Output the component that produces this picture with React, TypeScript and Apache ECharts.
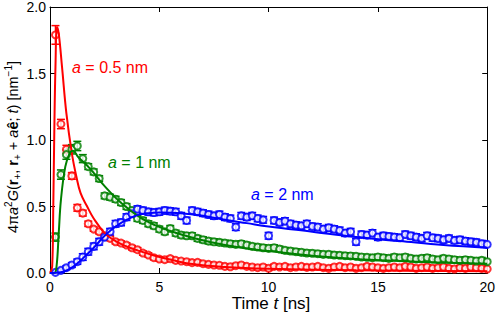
import React, { useEffect, useRef } from 'react';
import * as echarts from 'echarts';

// sampling times (ns)
const times = [0.25,0.5,0.75,1,1.25,1.5,1.75,2,2.25,2.5,2.75,3,3.25,3.5,3.75,4,4.25,4.5,4.75,5,
  5.25,5.5,5.75,6,6.25,6.5,6.75,7,7.25,7.5,7.75,8,8.25,8.5,8.75,9,9.25,9.5,9.75,10,
  10.25,10.5,10.75,11,11.25,11.5,11.75,12,12.25,12.5,12.75,13,13.25,13.5,13.75,14,14.25,14.5,14.75,15,
  15.25,15.5,15.75,16,16.25,16.5,16.75,17,17.25,17.5,17.75,18,18.25,18.5,18.75,19,19.25,19.5,19.75,20];

// a = 0.5 nm (red)
const redVals = [1.79,1.12,0.93,0.73,0.49,0.45,0.37,0.33,0.31,0.28,0.26,0.235,0.225,0.21,0.19,0.175,0.15,0.135,0.115,0.105,
  0.1,0.108,0.095,0.09,0.085,0.078,0.08,0.07,0.065,0.06,0.058,0.05,0.047,0.055,0.06,0.05,0.045,0.04,0.045,0.035,
  0.05,0.045,0.05,0.04,0.045,0.05,0.042,0.045,0.05,0.04,0.035,0.045,0.05,0.04,0.045,0.035,0.04,0.05,0.045,0.04,
  0.035,0.04,0.045,0.04,0.05,0.045,0.035,0.04,0.045,0.035,0.04,0.045,0.035,0.03,0.04,0.035,0.045,0.04,0.035,0.03];
// a = 1 nm (green)
const greenVals = [0.27,0.74,0.89,0.93,0.955,0.86,0.8,0.76,0.71,0.58,0.57,0.555,0.53,0.5,0.47,0.41,0.395,0.37,0.355,0.33,
  0.31,0.335,0.3,0.285,0.28,0.28,0.26,0.25,0.24,0.235,0.23,0.225,0.22,0.215,0.22,0.21,0.2,0.195,0.19,0.185,
  0.19,0.18,0.17,0.165,0.16,0.155,0.15,0.148,0.145,0.14,0.14,0.135,0.133,0.13,0.128,0.125,0.12,0.118,0.115,0.12,
  0.115,0.11,0.12,0.115,0.12,0.11,0.105,0.11,0.115,0.105,0.1,0.11,0.105,0.1,0.095,0.1,0.095,0.09,0.095,0.085];
// a = 2 nm (blue)
const blueVals = [0.005,0.02,0.04,0.06,0.085,0.12,0.16,0.2,0.235,0.27,0.31,0.37,0.38,0.42,0.445,0.48,0.47,0.46,0.455,0.46,
  0.47,0.465,0.46,0.43,0.395,0.47,0.46,0.45,0.44,0.43,0.44,0.42,0.41,0.345,0.43,0.42,0.43,0.41,0.4,0.28,
  0.395,0.38,0.39,0.37,0.36,0.355,0.37,0.35,0.345,0.33,0.34,0.33,0.32,0.3,0.31,0.235,0.29,0.285,0.3,0.27,
  0.28,0.275,0.27,0.265,0.29,0.28,0.27,0.26,0.28,0.265,0.26,0.25,0.26,0.245,0.25,0.24,0.235,0.23,0.22,0.215];

// error bar half-widths (leading points given, rest default)
const redErr = [0.07,0.035,0.03,0.025,0.025,0.022,0.02];
const redErrDefault = 0.016;
const greenErr = [0.03,0.035,0.035,0.035,0.035,0.03];
const greenErrDefault = 0.022;
const blueErr = [0.01,0.012,0.015,0.018,0.02];
const blueErrDefault = 0.025;

// fitted curves [t, value]
const redFit = [[0,0],[0.1,0.05],[0.15,0.5],[0.2,1.1],[0.25,1.55],[0.32,1.85],[0.4,1.8],[0.55,1.55],[0.75,1.2],[1.0,0.9],
  [1.2,0.73],[1.4,0.6],[1.7,0.5],[2.0,0.41],[2.5,0.3],[3.0,0.24],[3.5,0.2],[4.0,0.17],[4.8,0.13],[5.6,0.097],[6.6,0.065],
  [8,0.045],[10,0.032],[14,0.02],[20,0.013]];
const greenFit = [[0,0],[0.2,0],[0.3,0.05],[0.4,0.3],[0.5,0.55],[0.7,0.8],[0.9,0.9],[1.05,0.92],[1.3,0.87],[1.8,0.79],
  [2.57,0.64],[3.3,0.52],[4.1,0.42],[4.8,0.36],[5.6,0.31],[6.65,0.26],[8,0.21],[9,0.185],[10,0.165],[12,0.13],[14,0.105],
  [16,0.09],[18,0.078],[20,0.07]];
const blueFit = [[0,0],[0.5,0.005],[1,0.04],[1.5,0.11],[2,0.19],[2.5,0.28],[3,0.35],[3.5,0.4],[4,0.435],[4.5,0.45],[5,0.455],
  [6,0.45],[7,0.43],[8,0.4],[9,0.375],[10,0.35],[12,0.31],[14,0.27],[16,0.24],[18,0.21],[20,0.19]];

const xTicks = { min: 0, max: 20, interval: 5 };
const yTicks = { min: 0, max: 2, interval: 0.5 };

const RED = '#ff0000';
const GREEN = '#008000';
const BLUE = '#0000ff';
const FONT = '"Liberation Sans", Arial, Helvetica, sans-serif';

function errSeries(color: string, vals: number[], errs: number[], dflt: number) {
  const data = times.map((t, i) => [t, vals[i], errs[i] ?? dflt]);
  return {
    type: 'custom',
    data,
    clip: true,
    encode: { x: 0, y: 1 },
    renderItem: (_p: any, api: any) => {
      const t = api.value(0), v = api.value(1), e = api.value(2);
      const top = api.coord([t, v + e]);
      const bot = api.coord([t, Math.max(0, v - e)]);
      const style = { stroke: color, lineWidth: 1.5, fill: 'none' };
      return {
        type: 'group',
        children: [
          { type: 'line', shape: { x1: top[0], y1: top[1], x2: bot[0], y2: bot[1] }, style },
          { type: 'line', shape: { x1: top[0] - 4, y1: top[1], x2: top[0] + 4, y2: top[1] }, style },
          { type: 'line', shape: { x1: bot[0] - 4, y1: bot[1], x2: bot[0] + 4, y2: bot[1] }, style },
        ],
      };
    },
  };
}

function pointSeries(color: string, vals: number[]) {
  return {
    type: 'scatter',
    data: times.map((t, i) => [t, vals[i]]),
    symbol: 'emptyCircle',
    symbolSize: 7,
    itemStyle: { color, borderColor: color, borderWidth: 1.5 },
    clip: true,
  };
}

function fitSeries(color: string, pts: number[][]) {
  return {
    type: 'line',
    data: pts,
    smooth: 0.4,
    showSymbol: false,
    symbol: 'none',
    lineStyle: { color, width: 2 },
    clip: true,
    z: 3,
  };
}

const axisLine = { show: true, onZero: false, lineStyle: { color: '#000', width: 1 } };
const axisTick = { show: true, inside: true, length: 5, lineStyle: { color: '#000', width: 1 } };

export default function App() {
  const ref = useRef<HTMLDivElement>(null);
  useEffect(() => {
    if (!ref.current) return;
    const chart = echarts.init(ref.current, undefined, { renderer: 'svg' });
    const option: any = {
      animation: false,
      backgroundColor: '#fff',
      grid: { left: 50, right: 7, top: 5, bottom: 41, containLabel: false },
      xAxis: [
        { type: 'value', ...xTicks, position: 'bottom', axisLine, axisTick, splitLine: { show: false },
          axisLabel: { color: '#000', fontSize: 14, fontFamily: FONT, margin: 7 } },
        { type: 'value', ...xTicks, position: 'top', axisLine, axisTick, splitLine: { show: false },
          axisLabel: { show: false } },
      ],
      yAxis: [
        { type: 'value', ...yTicks, position: 'left', axisLine, axisTick, splitLine: { show: false },
          axisLabel: { color: '#000', fontSize: 14, fontFamily: FONT, margin: 4, formatter: (v: number) => v.toFixed(1) } },
        { type: 'value', ...yTicks, position: 'right', axisLine, axisTick, splitLine: { show: false },
          axisLabel: { show: false } },
      ],
      series: [
        errSeries(RED, redVals, redErr, redErrDefault),
        pointSeries(RED, redVals),
        errSeries(GREEN, greenVals, greenErr, greenErrDefault),
        pointSeries(GREEN, greenVals),
        errSeries(BLUE, blueVals, blueErr, blueErrDefault),
        pointSeries(BLUE, blueVals),
        fitSeries(RED, redFit),
        fitSeries(GREEN, greenFit),
        fitSeries(BLUE, blueFit),
      ],
      graphic: [
        {
          type: 'text', x: 271, y: 303, z: 10,
          style: {
            text: '{n|Time }{i|t}{n| [ns]}', align: 'center', verticalAlign: 'middle',
            rich: {
              n: { fontSize: 17, fontFamily: FONT, fill: '#000' },
              i: { fontSize: 17, fontFamily: FONT, fontStyle: 'italic', fill: '#000' },
            },
          },
        },
        {
          type: 'text', x: 13, y: 147, rotation: Math.PI / 2, z: 10,
          style: {
            text: '{n|4π}{i|a}{sup|2}{i|G}{n|(}{b|r}{sub|+}{n|, }{b|r}{sub|+}{n| + }{i|a}{b|ê}{n|; }{i|t}{n|) [nm}{sup|−1}{n|]}',
            align: 'center', verticalAlign: 'middle',
            rich: {
              n: { fontSize: 14.5, fontFamily: FONT, fill: '#000', lineHeight: 19 },
              i: { fontSize: 14.5, fontFamily: FONT, fontStyle: 'italic', fill: '#000', lineHeight: 19 },
              b: { fontSize: 14.5, fontFamily: FONT, fontWeight: 'bold', fill: '#000', lineHeight: 19 },
              sup: { fontSize: 10, fontFamily: FONT, fill: '#000', lineHeight: 11, verticalAlign: 'top' },
              sub: { fontSize: 10, fontFamily: FONT, fill: '#000', lineHeight: 9, verticalAlign: 'bottom' },
            },
          },
        },
        {
          type: 'text', x: 72, y: 67, z: 10,
          style: {
            text: '{i|a}{n| = 0.5 nm}', align: 'left', verticalAlign: 'middle',
            rich: {
              n: { fontSize: 16, fontFamily: FONT, fill: RED },
              i: { fontSize: 16, fontFamily: FONT, fontStyle: 'italic', fill: RED },
            },
          },
        },
        {
          type: 'text', x: 108, y: 162, z: 10,
          style: {
            text: '{i|a}{n| = 1 nm}', align: 'left', verticalAlign: 'middle',
            rich: {
              n: { fontSize: 16, fontFamily: FONT, fill: GREEN },
              i: { fontSize: 16, fontFamily: FONT, fontStyle: 'italic', fill: GREEN },
            },
          },
        },
        {
          type: 'text', x: 251, y: 194, z: 10,
          style: {
            text: '{i|a}{n| = 2 nm}', align: 'left', verticalAlign: 'middle',
            rich: {
              n: { fontSize: 16, fontFamily: FONT, fill: BLUE },
              i: { fontSize: 16, fontFamily: FONT, fontStyle: 'italic', fill: BLUE },
            },
          },
        },
      ],
    };
    chart.setOption(option);
    return () => chart.dispose();
  }, []);
  return <div ref={ref} style={{ width: 498, height: 314, position: 'absolute', left: 0, top: 0 }} />;
}
